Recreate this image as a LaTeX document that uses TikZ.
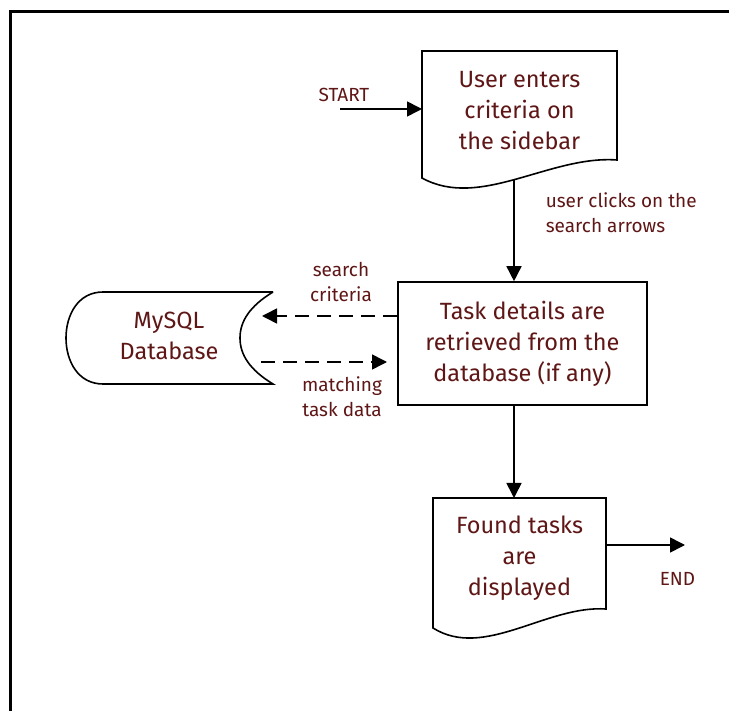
\documentclass[tikz,border=0pt]{standalone}
\usepackage{fontspec}
\setmainfont{Fira Sans}
\usetikzlibrary{arrows.meta}
\definecolor{txt}{RGB}{95,22,22}
\begin{document}
\begin{tikzpicture}[x=1pt,y=1pt,
  line width=1.6pt,
  big/.style={font=\fontsize{23.5}{31}\selectfont, text=txt, align=center, inner sep=0pt},
  small/.style={font=\fontsize{19}{25}\selectfont, text=txt, align=center, inner sep=0pt},
  arr/.style={-{Triangle[length=15pt,width=15pt]}, line width=1.6pt},
  dasharr/.style={arr, dash pattern=on 14pt off 8pt},
  shapebox/.style={draw, line width=1.6pt, fill=white}]
\useasboundingbox (0,0) rectangle (729,-711);
% frame
\draw[line width=3pt] (729,-12) -- (10,-12) -- (10,-711);

% document 1
\draw[shapebox] (422,-51) -- (617,-51) -- (617,-160)
  .. controls (550,-155) and (480,-210) .. (422,-178) -- cycle;
\node[big] (d1) at (519.5,-110.5) {User enters\\criteria on\\the sidebar};
\coordinate (d1w) at (422,-109);
\coordinate (w1) at (514,-180);

% process box
\node[shapebox, big, minimum width=249pt, minimum height=123pt] (p) at (522.5,-343.5)
  {Task details are\\retrieved from the\\database (if any)};

% document 2
\draw[shapebox] (433,-498) -- (606,-498) -- (606,-609)
  .. controls (546.5,-605) and (484,-660) .. (433,-628) -- cycle;
\node[big] (d2) at (519.5,-558) {Found tasks\\are\\displayed};
\coordinate (t2) at (514,-498);
\coordinate (d2r) at (606,-545);
\coordinate (e) at (685,-545);

% database
\draw[shapebox] (273,-292) -- (103,-292)
  .. controls (78,-292) and (66,-315) .. (66,-338)
  .. controls (66,-361) and (78,-384) .. (103,-384) -- (273,-384)
  .. controls (250,-370) and (240,-355) .. (240,-338)
  .. controls (240,-321) and (250,-306) .. (273,-292);
\node[big] (db) at (169,-335.5) {MySQL\\Database};
\coordinate (dbr1) at (262,-316);
\coordinate (dbr2) at (261,-362);
\coordinate (pin) at (387,-362);

% start
\coordinate (s) at (340,-109);
\node[small] (lstart) at (344,-95) {START};
\draw[arr] (s) -- (d1w);

% connectors
\draw[arr] (w1) -- (w1 |- p.north);
\node[small, align=left, anchor=west] (lclick) at (545,-212.5) {user clicks on the\\search arrows};

\draw[dasharr] (p.west |- dbr1) -- (dbr1);
\draw[dasharr] (dbr2) -- (pin);
\node[small] (lsc) at (341,-282) {search\\criteria};
\node[small] (lmt) at (342,-397) {matching\\task data};

\draw[arr] (p.south -| t2) -- (t2);
\draw[arr] (d2r) -- (e);
\node[small] (lend) at (677.5,-579) {END};
\end{tikzpicture}
\end{document}
